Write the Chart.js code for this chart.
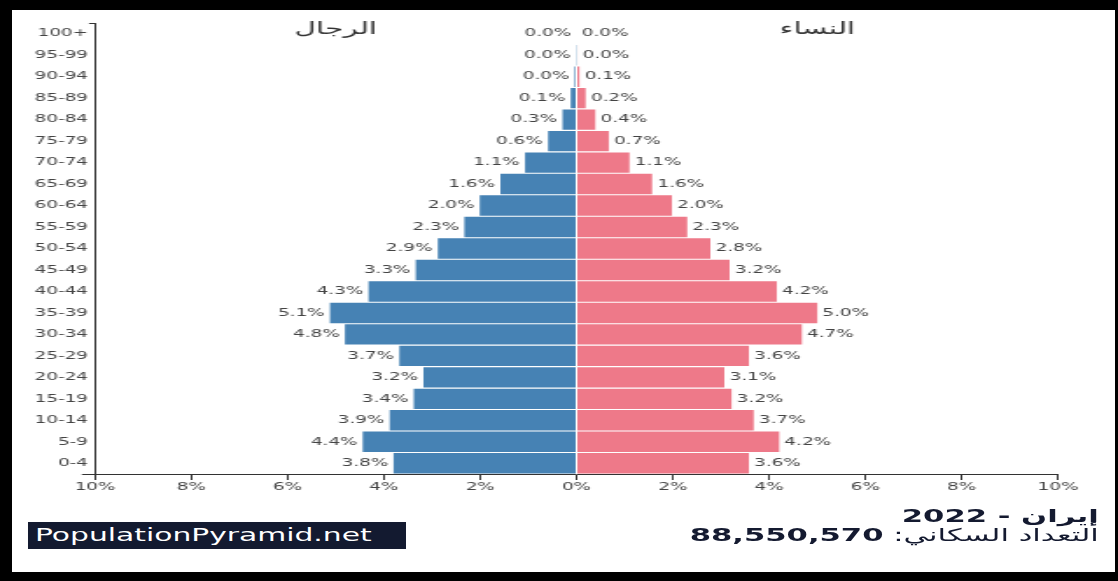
<!DOCTYPE html>
<html>
<head>
<meta charset="utf-8">
<script src="https://cdn.jsdelivr.net/npm/chart.js@4/dist/chart.umd.min.js"></script>
<style>
  html, body { margin: 0; padding: 0; background: #000; width: 1118px; height: 581px; overflow: hidden; }
  #paper { position: absolute; left: 12px; top: 10px; width: 1103px; height: 562px; background: #fff; }
  /* the reference is a horizontally stretched render, so draw narrow and stretch */
  #stage { position: absolute; left: 0; top: 0; width: 639px; height: 581px;
           transform: scaleX(1.7496); transform-origin: 0 0; }
  #chart { position: absolute; left: 0; top: 0; }
  #brand { position: absolute; left: 16px; top: 522px; width: 216px; height: 27px;
           background: #131a30; color: #fff; font: 17px "DejaVu Sans"; line-height: 27px;
           padding-left: 4px; box-sizing: border-box; white-space: nowrap; }
  .info { position: absolute; right: 11px; direction: rtl; white-space: nowrap;
          font-family: "DejaVu Sans"; font-size: 17.5px; line-height: 19px; color: #141a30; }
  #country { top: 507px; font-weight: bold; }
  #total { top: 526px; }
  #total b { font-weight: bold; }
</style>
</head>
<body>
<div id="paper"></div>
<div id="stage">
  <canvas id="chart" width="639" height="581"></canvas>
  <div id="brand">PopulationPyramid.net</div>
  <div class="info" id="country">إيران - 2022</div>
  <div class="info" id="total">التعداد السكاني: <b>88,550,570</b></div>
</div>
<script>
// age groups, bottom to top
var ageGroups = ['0-4', '5-9', '10-14', '15-19', '20-24', '25-29', '30-34', '35-39', '40-44', '45-49',
  '50-54', '55-59', '60-64', '65-69', '70-74', '75-79', '80-84', '85-89', '90-94', '95-99', '100+'];

// share of total population, %
var malePct = [3.80, 4.44, 3.88, 3.38, 3.18, 3.68, 4.81, 5.12, 4.32, 3.34,
  2.88, 2.33, 2.01, 1.58, 1.07, 0.59, 0.29, 0.12, 0.04, 0.01, 0.00];
var femalePct = [3.58, 4.21, 3.68, 3.22, 3.07, 3.58, 4.68, 5.00, 4.16, 3.18,
  2.78, 2.30, 1.98, 1.57, 1.10, 0.67, 0.39, 0.19, 0.06, 0.02, 0.00];

var xTickValues = [-10, -8, -6, -4, -2, 0, 2, 4, 6, 8, 10];
var sideTitles = ['الرجال', 'النساء'];

var tickFont = { family: 'DejaVu Sans', size: 10.5 };
var textColor = '#444';
var axisColor = '#333';

// value labels at the end of each bar
var barLabels = {
  id: 'barLabels',
  afterDatasetsDraw: function(chart) {
    var ctx = chart.ctx;
    ctx.save();
    ctx.font = '10.5px "DejaVu Sans"';
    ctx.fillStyle = textColor;
    ctx.textBaseline = 'middle';
    chart.data.datasets.forEach(function(ds, i) {
      var meta = chart.getDatasetMeta(i);
      meta.data.forEach(function(bar, j) {
        var txt = Math.abs(ds.data[j]).toFixed(1) + '%';
        if (i === 0) {
          ctx.textAlign = 'right';
          ctx.fillText(txt, bar.x - 3, bar.y);
        } else {
          ctx.textAlign = 'left';
          ctx.fillText(txt, bar.x + 3, bar.y);
        }
      });
    });
    ctx.restore();
  }
};

// side titles + the little outer ticks of the y axis
var extras = {
  id: 'extras',
  afterDraw: function(chart) {
    var ctx = chart.ctx;
    var x = chart.scales.x;
    var area = chart.chartArea;
    ctx.save();
    ctx.font = '17px "DejaVu Sans"';
    ctx.fillStyle = '#333';
    ctx.textAlign = 'center';
    ctx.textBaseline = 'alphabetic';
    ctx.fillText(sideTitles[0], x.getPixelForValue(-5), 34);
    ctx.fillText(sideTitles[1], x.getPixelForValue(5), 34);

    ctx.strokeStyle = axisColor;
    ctx.lineWidth = 1;
    ctx.beginPath();
    ctx.moveTo(area.left - 3.4, area.top + 0.5);
    ctx.lineTo(area.left, area.top + 0.5);
    ctx.moveTo(area.left - 7.5, area.bottom + 0.5);
    ctx.lineTo(area.left, area.bottom + 0.5);
    ctx.stroke();
    ctx.restore();
  }
};

new Chart(document.getElementById('chart'), {
  type: 'bar',
  data: {
    labels: ageGroups,
    datasets: [
      { label: 'Male', data: malePct.map(function(v) { return -v; }), backgroundColor: '#4682b4' },
      { label: 'Female', data: femalePct, backgroundColor: '#ee7989' }
    ]
  },
  options: {
    indexAxis: 'y',
    responsive: false,
    animation: false,
    devicePixelRatio: 1,
    layout: { padding: { left: 14.3, right: 34.3, top: 23, bottom: 77 } },
    datasets: { bar: { barPercentage: 1, categoryPercentage: 0.95, borderWidth: 0 } },
    plugins: { legend: { display: false }, tooltip: { enabled: false } },
    scales: {
      x: {
        stacked: true,
        min: -10,
        max: 10,
        afterBuildTicks: function(scale) {
          scale.ticks = xTickValues.map(function(v) { return { value: v }; });
        },
        afterFit: function(scale) { scale.height = 30; },
        grid: { display: true, drawOnChartArea: false, drawTicks: true, tickLength: 6, color: axisColor },
        border: { display: true, color: axisColor },
        ticks: {
          font: tickFont,
          color: textColor,
          padding: 1,
          maxRotation: 0,
          callback: function(v) { return Math.abs(v) + '%'; }
        }
      },
      y: {
        stacked: true,
        reverse: true,
        afterFit: function(scale) { scale.width = 40; },
        grid: { display: false, drawTicks: false },
        border: { display: true, color: axisColor },
        ticks: { font: tickFont, color: textColor, padding: 4, autoSkip: false }
      }
    }
  },
  plugins: [barLabels, extras]
});
</script>
</body>
</html>
